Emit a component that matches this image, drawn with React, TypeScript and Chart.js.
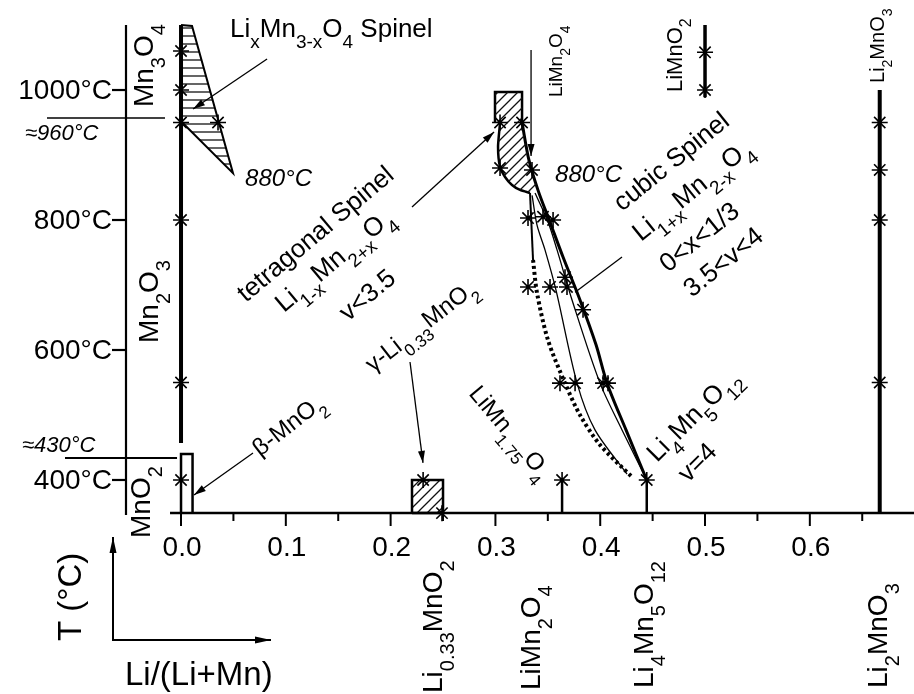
import React, { useEffect, useRef } from "react";
import { Chart, registerables } from "chart.js";

Chart.register(...registerables);

// ---------- scales ----------
const X_MIN = -0.0525;
const X_MAX = 0.6994;
const T_MIN = 349.2;
const T_MAX = 1138.5;

const xTickValues = [0, 0.1, 0.2, 0.3, 0.4, 0.5, 0.6];
const xTickLabels = ["0.0", "0.1", "0.2", "0.3", "0.4", "0.5", "0.6"];
const xMinorTickValues = [0.05, 0.15, 0.25, 0.35, 0.45, 0.55, 0.65];
const yTickValues = [400, 600, 800, 1000];
const yTickLabels = ["400°C", "600°C", "800°C", "1000°C"];

// ---------- measured points (asterisks) ----------
const measuredX = [
  0, 0, 0, 0, 0, 0, 0.0353, 0.231, 0.249, 0.3636, 0.4444, 0.5, 0.5, 0.6667, 0.6667, 0.6667, 0.6667,
  0.3044, 0.3254, 0.3044, 0.3349, 0.3311, 0.3454, 0.355, 0.3311, 0.3521, 0.3664, 0.3683, 0.3836,
  0.3616, 0.376, 0.4027, 0.4074,
];
const measuredT = [
  1060, 1000, 950, 800, 550, 400, 950, 400, 349, 400, 400, 1058, 1000, 950, 877, 800, 550,
  950, 950, 880, 877, 803, 805, 800, 697, 697, 712, 697, 662,
  549, 549, 549, 549,
];

// ---------- phase lines [x, T] ----------
const mnOxideLine = [[0, 1100], [0, 457]];
const liMnO2Line = [[0.5, 1100], [0.5, 989]];
const li2MnO3Line = [[0.6667, 1000], [0.6667, T_MIN]];
const liMn175Stub = [[0.3636, 400], [0.3636, T_MIN]];
const li4Mn5Stub = [[0.4444, 400], [0.4444, T_MIN]];
const line960 = [[-0.1279, 957], [-0.0153, 957]];
const line430 = [[-0.1107, 433.8], [-0.0038, 433.8]];
const spinelTriangle = [[0, 1100], [0.0105, 1098.5], [0.0496, 872], [0, 952], [0, 1100]];
const mnO2Box = [[0, T_MIN], [0, 440], [0.011, 440], [0.011, T_MIN]];
const gammaBox = [[0.2204, T_MIN], [0.2204, 400], [0.25, 400], [0.25, T_MIN], [0.2204, T_MIN]];
const topBox = [[0.2996, 950], [0.2996, 997], [0.3254, 997], [0.3254, 950]];
const twoPhaseHatch = [
  [0.2996, 997], [0.3254, 997], [0.3254, 950], [0.332, 892], [0.3406, 846], [0.333, 841.5],
  [0.3235, 846.2], [0.3158, 853.8], [0.3092, 866.2], [0.3044, 881.5], [0.3025, 912.3],
  [0.3044, 949.2], [0.2996, 950], [0.2996, 997],
];
const tetragonalBoundary = [
  [0.3044, 949.2], [0.3025, 912.3], [0.3044, 881.5], [0.3092, 866.2], [0.3158, 853.8],
  [0.3235, 846.2], [0.333, 841.5],
];
const cubicRightBoundary = [
  [0.3254, 950], [0.332, 892], [0.3406, 846], [0.352, 797], [0.3645, 743], [0.3807, 677],
  [0.396, 608], [0.4065, 549], [0.4246, 477], [0.4444, 400],
];
const innerLineA = [
  [0.335, 838], [0.3397, 792], [0.3473, 754], [0.3578, 692], [0.3779, 549], [0.395, 477], [0.4256, 409],
];
const innerLineB = [
  [0.3378, 841.5], [0.3502, 797], [0.3588, 754], [0.3731, 677], [0.3998, 549], [0.4208, 477], [0.4444, 400],
];
const leftSolid = [[0.333, 841.5], [0.3359, 738.5]];
const leftDotted = [
  [0.3359, 738.5], [0.3397, 687.7], [0.3502, 615], [0.3664, 549], [0.3807, 500], [0.3998, 454], [0.4303, 404.6],
];

// ---------- annotations ----------
type Part = [string, boolean?];
interface Label { x: number; t: number; angle: number; size: number; italic?: boolean; parts: Part[] }

const labels: Label[] = [
  { x: 0.0468, t: 1081.5, angle: 0, size: 26, parts: [["Li"], ["x", true], ["Mn"], ["3-x", true], ["O"], ["4", true], [" Spinel"]] },
  { x: -0.0267, t: 973.8, angle: -90, size: 28, parts: [["Mn"], ["3", true], ["O"], ["4", true]] },
  { x: -0.0219, t: 610.8, angle: -90, size: 28, parts: [["Mn"], ["2", true], ["O"], ["3", true]] },
  { x: -0.0296, t: 310.8, angle: -90, size: 28, parts: [["MnO"], ["2", true]] },
  { x: 0.0611, t: 852.3, angle: 0, size: 24, italic: true, parts: [["880°C"]] },
  { x: 0.062, t: 672.3, angle: -40, size: 26, parts: [["tetragonal Spinel"]] },
  { x: 0.0983, t: 656.9, angle: -40, size: 26, parts: [["Li"], ["1-x", true], ["Mn"], ["2+x", true], ["O"], ["4", true]] },
  { x: 0.1594, t: 643.1, angle: -40, size: 26, parts: [["v<3.5"]] },
  { x: 0.1832, t: 564.6, angle: -38, size: 24, parts: [["γ-Li"], ["0.33", true], ["MnO"], ["2", true]] },
  { x: 0.0754, t: 435.4, angle: -38, size: 24, parts: [["β-MnO"], ["2", true]] },
  { x: 0.2739, t: 532.3, angle: 50, size: 24, parts: [["LiMn"], ["1.75", true], ["O"], ["4", true]] },
  { x: 0.3569, t: 858.5, angle: 0, size: 24, italic: true, parts: [["880°C"]] },
  { x: 0.3635, t: 989.2, angle: -90, size: 19, parts: [["LiMn"], ["2", true], ["O"], ["4", true]] },
  { x: 0.4781, t: 996.9, angle: -90, size: 22, parts: [["LiMnO"], ["2", true]] },
  { x: 0.6708, t: 1010.8, angle: -90, size: 20, parts: [["Li"], ["2", true], ["MnO"], ["3", true]] },
  { x: 0.4208, t: 812.3, angle: -39, size: 26, parts: [["cubic Spinel"]] },
  { x: 0.4389, t: 766.2, angle: -39, size: 26, parts: [["Li"], ["1+x", true], ["Mn"], ["2-x", true], ["O"], ["4", true]] },
  { x: 0.4647, t: 718.5, angle: -39, size: 26, parts: [["0<x<1/3"]] },
  { x: 0.4876, t: 680, angle: -39, size: 26, parts: [["3.5<v<4"]] },
  { x: 0.4542, t: 426.2, angle: -45, size: 26, parts: [["Li"], ["4", true], ["Mn"], ["5", true], ["O"], ["12", true]] },
  { x: 0.4838, t: 395, angle: -45, size: 26, parts: [["v=4"]] },
  { x: -0.1489, t: 923.1, angle: 0, size: 22, italic: true, parts: [["≈960°C"]] },
  { x: -0.1517, t: 443.1, angle: 0, size: 22, italic: true, parts: [["≈430°C"]] },
  { x: 0.249, t: 72.3, angle: -90, size: 28, parts: [["Li"], ["0.33", true], ["MnO"], ["2", true]] },
  { x: 0.3426, t: 76.9, angle: -90, size: 28, parts: [["LiMn"], ["2", true], ["O"], ["4", true]] },
  { x: 0.4504, t: 80, angle: -90, size: 28, parts: [["Li"], ["4", true], ["Mn"], ["5", true], ["O"], ["12", true]] },
  { x: 0.6737, t: 80, angle: -90, size: 28, parts: [["Li"], ["2", true], ["MnO"], ["3", true]] },
];

const pointers = [
  { from: [0.0821, 1047.7], to: [0.0115, 970.8], head: true },
  { from: [0.2204, 820], to: [0.2987, 935.4], head: true },
  { from: [0.2185, 581.5], to: [0.2309, 426.2], head: true },
  { from: [0.0687, 441.5], to: [0.0124, 376.9], head: true },
  { from: [0.334, 1061.5], to: [0.334, 898.5], head: true },
  { from: [0.4208, 743], to: [0.376, 689], head: false },
];

const FONT = '"Liberation Sans", Arial, Helvetica, sans-serif';

function drawRich(ctx: CanvasRenderingContext2D, x: number, y: number, angle: number, size: number, italic: boolean, parts: Part[]) {
  ctx.save();
  ctx.translate(x, y);
  ctx.rotate((angle * Math.PI) / 180);
  ctx.textBaseline = "alphabetic";
  ctx.textAlign = "left";
  let cx = 0;
  for (const [txt, sub] of parts) {
    const fs = sub ? Math.round(size * 0.72) : size;
    ctx.font = `${italic ? "italic " : ""}${fs}px ${FONT}`;
    ctx.fillText(txt, cx, sub ? size * 0.42 : 0);
    cx += ctx.measureText(txt).width;
  }
  ctx.restore();
}

function arrow(ctx: CanvasRenderingContext2D, x1: number, y1: number, x2: number, y2: number, head: boolean, L = 13, W = 4) {
  ctx.beginPath();
  ctx.moveTo(x1, y1);
  ctx.lineTo(x2, y2);
  ctx.stroke();
  if (head) {
    const a = Math.atan2(y2 - y1, x2 - x1);
    ctx.beginPath();
    ctx.moveTo(x2, y2);
    ctx.lineTo(x2 - L * Math.cos(a) + W * Math.sin(a), y2 - L * Math.sin(a) - W * Math.cos(a));
    ctx.lineTo(x2 - L * Math.cos(a) - W * Math.sin(a), y2 - L * Math.sin(a) + W * Math.cos(a));
    ctx.closePath();
    ctx.fill();
  }
}

const overlay = {
  id: "overlay",
  afterDatasetsDraw(chart: any) {
    const ctx: CanvasRenderingContext2D = chart.ctx;
    const xs = chart.scales.x;
    const ys = chart.scales.y;
    const px = (v: number) => xs.getPixelForValue(v);
    const py = (v: number) => ys.getPixelForValue(v);
    ctx.save();
    ctx.strokeStyle = "#000";
    ctx.fillStyle = "#000";
    ctx.lineCap = "butt";

    // y axis
    ctx.lineWidth = 2.2;
    const yAxisX = px(X_MIN);
    ctx.beginPath();
    ctx.moveTo(yAxisX, py(1100));
    ctx.lineTo(yAxisX, py(T_MIN) + 2);
    ctx.stroke();
    ctx.font = `28px ${FONT}`;
    ctx.textAlign = "right";
    ctx.textBaseline = "middle";
    yTickValues.forEach((v, i) => {
      ctx.beginPath();
      ctx.moveTo(yAxisX - 14, py(v));
      ctx.lineTo(yAxisX, py(v));
      ctx.stroke();
      ctx.fillText(yTickLabels[i], yAxisX - 14, py(v) + 1);
    });

    // x axis
    const axisY = py(T_MIN);
    ctx.lineWidth = 2.4;
    ctx.beginPath();
    ctx.moveTo(px(-0.0105), axisY);
    ctx.lineTo(px(X_MAX), axisY);
    ctx.stroke();
    ctx.lineWidth = 2;
    xTickValues.forEach((v) => {
      ctx.beginPath();
      ctx.moveTo(px(v), axisY);
      ctx.lineTo(px(v), axisY + 13);
      ctx.stroke();
    });
    xMinorTickValues.forEach((v) => {
      ctx.beginPath();
      ctx.moveTo(px(v), axisY);
      ctx.lineTo(px(v), axisY + 8);
      ctx.stroke();
    });
    ctx.font = `28px ${FONT}`;
    ctx.textAlign = "center";
    ctx.textBaseline = "middle";
    xTickValues.forEach((v, i) => ctx.fillText(xTickLabels[i], px(v) + 1, axisY + 35));

    // pointers
    ctx.lineWidth = 1.3;
    pointers.forEach((p) => arrow(ctx, px(p.from[0]), py(p.from[1]), px(p.to[0]), py(p.to[1]), p.head, 12, 3.5));

    // labels
    labels.forEach((l) => drawRich(ctx, px(l.x), py(l.t), l.angle, l.size, !!l.italic, l.parts));

    // axis titles with direction arrows
    drawRich(ctx, 81, 641, -90, 33, false, [["T (°C)"]]);
    drawRich(ctx, 125, 685, 0, 33, false, [["Li/(Li+Mn)"]]);
    ctx.lineWidth = 2;
    arrow(ctx, 113, 641, 113, 537, true, 16, 3.5);
    arrow(ctx, 112, 640, 271, 640, true, 16, 3.5);
    ctx.restore();
  },
};

function hatch(kind: "h" | "d"): CanvasPattern | string {
  const c = document.createElement("canvas");
  const n = kind === "h" ? 8 : 10;
  c.width = n;
  c.height = n;
  const g = c.getContext("2d");
  if (!g) return "rgba(0,0,0,0.2)";
  g.strokeStyle = "#111";
  g.lineWidth = 1.3;
  g.beginPath();
  if (kind === "h") {
    g.moveTo(0, n / 2);
    g.lineTo(n, n / 2);
  } else {
    g.moveTo(-1, n + 1);
    g.lineTo(n + 1, -1);
    g.moveTo(-n / 2 - 1, n / 2 + 1);
    g.lineTo(n / 2 + 1, -n / 2 - 1);
    g.moveTo(n / 2 - 1, n * 1.5 + 1);
    g.lineTo(n * 1.5 + 1, n / 2 - 1);
  }
  g.stroke();
  return g.createPattern(c, "repeat") || "rgba(0,0,0,0.2)";
}

const pts = (arr: number[][]) => arr.map(([x, y]) => ({ x, y }));

export default function App() {
  const ref = useRef<HTMLCanvasElement | null>(null);
  useEffect(() => {
    if (!ref.current) return;
    const hH = hatch("h");
    const hD = hatch("d");
    const ln = (arr: number[][], w: number, extra: any = {}) => ({
      data: pts(arr),
      borderColor: "#000",
      borderWidth: w,
      pointRadius: 0,
      fill: false,
      tension: 0,
      clip: false,
      ...extra,
    });
    const chart = new Chart(ref.current, {
      type: "line",
      data: {
        datasets: [
          {
            data: measuredX.map((x, i) => ({ x, y: measuredT[i] })),
            showLine: false,
            pointStyle: "star",
            pointRadius: 8,
            pointBorderWidth: 1.6,
            pointBorderColor: "#000",
            borderColor: "#000",
            clip: false,
          } as any,
          ln(mnOxideLine, 4),
          ln(liMnO2Line, 3.5),
          ln(li2MnO3Line, 4),
          ln(liMn175Stub, 2.5),
          ln(li4Mn5Stub, 2.5),
          ln(line960, 1.5),
          ln(line430, 2),
          ln(spinelTriangle, 2, { fill: "shape", backgroundColor: hH }),
          ln(mnO2Box, 2.5),
          ln(gammaBox, 2.5, { fill: "shape", backgroundColor: hD }),
          ln(twoPhaseHatch, 0, { fill: "shape", backgroundColor: hD }),
          ln(topBox, 2.5),
          ln(tetragonalBoundary, 2.5, { tension: 0.2 }),
          ln(cubicRightBoundary, 3, { tension: 0.3 }),
          ln(innerLineA, 1.3, { tension: 0.3 }),
          ln(innerLineB, 1.3, { tension: 0.3 }),
          ln(leftSolid, 2),
          ln(leftDotted, 4, { tension: 0.3, borderDash: [3, 3] }),
        ],
      },
      options: {
        responsive: false,
        animation: false,
        events: [],
        layout: { autoPadding: false, padding: { left: 126, right: 0, top: 0, bottom: 181 } },
        scales: {
          x: { type: "linear", min: X_MIN, max: X_MAX, display: false },
          y: { type: "linear", min: T_MIN, max: T_MAX, display: false },
        },
        plugins: { legend: { display: false }, tooltip: { enabled: false } },
      },
      plugins: [overlay],
    });
    return () => chart.destroy();
  }, []);
  return (
    <canvas
      ref={ref}
      width={914}
      height={694}
      style={{ position: "absolute", left: 0, top: 0, width: 914, height: 694, background: "#fff" }}
    />
  );
}
